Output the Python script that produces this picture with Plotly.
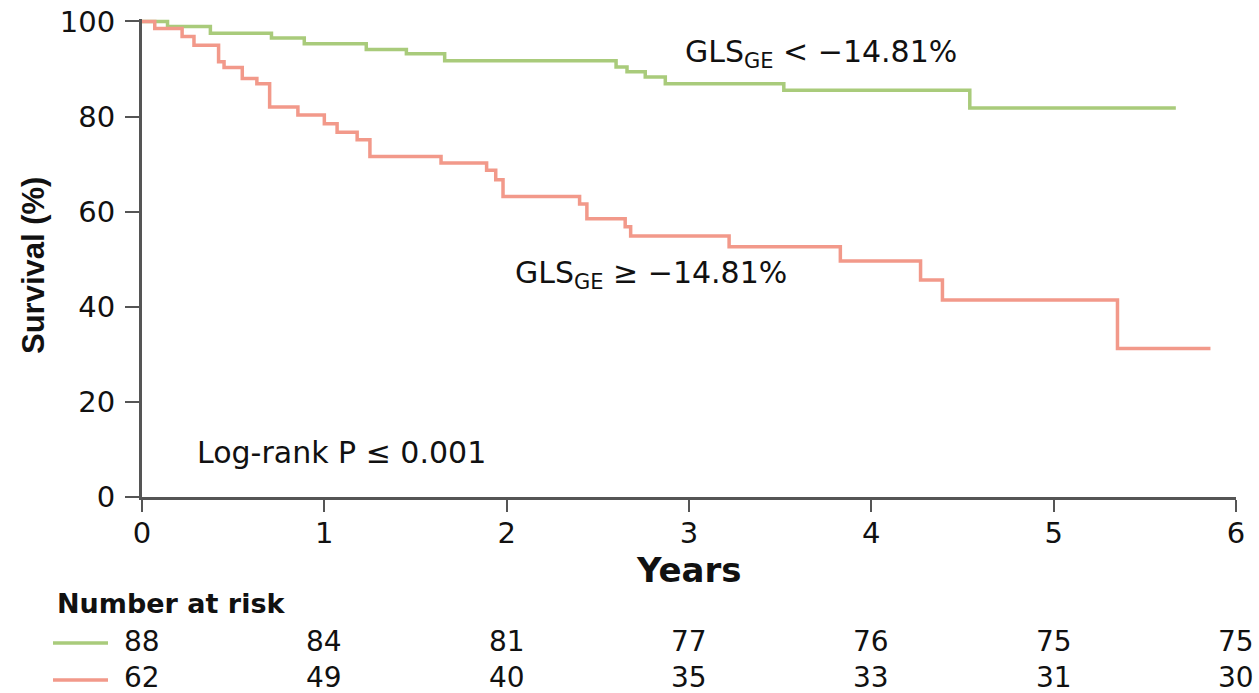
import plotly.graph_objects as go

# ---- data ----
green_t = [0, 0.14, 0.375, 0.71, 0.89, 1.23, 1.45, 1.66, 2.60, 2.66, 2.76, 2.87, 3.52, 4.54, 5.67]
green_s = [100, 98.9, 97.5, 96.5, 95.3, 94.1, 93.2, 91.7, 90.4, 89.4, 88.3, 86.9, 85.5, 81.8, 81.8]

red_t = [0, 0.07, 0.22, 0.285, 0.42, 0.45, 0.55, 0.63, 0.70, 0.855, 1.0, 1.07, 1.18, 1.25,
         1.64, 1.89, 1.94, 1.98, 2.40, 2.44, 2.65, 2.68, 3.22, 3.83, 4.27, 4.39, 5.35, 5.86]
red_s = [100, 98.5, 96.8, 95.0, 91.5, 90.3, 88.0, 86.9, 82.0, 80.3, 78.5, 76.7, 75.1, 71.6,
         70.2, 68.7, 66.7, 63.2, 61.6, 58.5, 56.8, 54.9, 52.6, 49.6, 45.6, 41.4, 31.2, 31.2]

risk_years = [0, 1, 2, 3, 4, 5, 6]
risk_green = [88, 84, 81, 77, 76, 75, 75]
risk_red = [62, 49, 40, 35, 33, 31, 30]

x_ticks = [0, 1, 2, 3, 4, 5, 6]
y_ticks = [0, 20, 40, 60, 80, 100]

GREEN = "#a9cb7b"
RED = "#f2998a"
WIDE = "DejaVu Sans, Verdana, sans-serif"
NARROW = "Liberation Sans, Arial, sans-serif"
TXT = "#111111"

fig = go.Figure()
fig.add_trace(go.Scatter(x=green_t, y=green_s, mode="lines", line=dict(color=GREEN, width=3.5, shape="hv"),
                         showlegend=False, hoverinfo="skip"))
fig.add_trace(go.Scatter(x=red_t, y=red_s, mode="lines", line=dict(color=RED, width=3.5, shape="hv"),
                         showlegend=False, hoverinfo="skip"))

H0 = 497      # pixel y of plot bottom
PH = 478      # plot height in px
X0 = 142      # pixel x of plot left
PW = 1094     # plot width in px


def py(pix):
    return (H0 - pix) / PH


def px(pix):
    return (pix - X0) / PW


def dx(pix):   # pixel x -> data x
    return (pix - X0) / (PW / 6)


def dy(pix):   # pixel y -> data y
    return (H0 - pix) / (PH / 100.5)


ann = []
ann.append(dict(x=dx(683), y=dy(53), xref="x", yref="y",
                text="GLS<sub>GE</sub> &lt; \u221214.81%", showarrow=False, xanchor="left",
                yanchor="middle", font=dict(family=WIDE, size=30, color=TXT)))
ann.append(dict(x=dx(513), y=dy(274), xref="x", yref="y",
                text="GLS<sub>GE</sub> \u2265 \u221214.81%", showarrow=False, xanchor="left",
                yanchor="middle", font=dict(family=WIDE, size=30, color=TXT)))
ann.append(dict(x=dx(195), y=dy(452), xref="x", yref="y",
                text="Log-rank P \u2264 0.001", showarrow=False, xanchor="left",
                yanchor="middle", font=dict(family=WIDE, size=30, color=TXT)))
ann.append(dict(x=3, y=py(570), xref="x", yref="paper", text="<b>Years</b>", showarrow=False,
                xanchor="center", yanchor="middle", font=dict(family=WIDE, size=34, color=TXT)))
ann.append(dict(x=px(33), y=py(265), xref="paper", yref="paper", text="<b>Survival (%)</b>",
                showarrow=False, textangle=-90, xanchor="center", yanchor="middle",
                font=dict(family=NARROW, size=31, color=TXT)))
ann.append(dict(x=px(55), y=py(603), xref="paper", yref="paper", text="<b>Number at risk</b>",
                showarrow=False, xanchor="left", yanchor="middle",
                font=dict(family=WIDE, size=27, color=TXT)))
for yr, g, r in zip(risk_years, risk_green, risk_red):
    ann.append(dict(x=yr, y=py(642), xref="x", yref="paper", text=str(g), showarrow=False,
                    xanchor="center", yanchor="middle", font=dict(family=WIDE, size=28, color=TXT)))
    ann.append(dict(x=yr, y=py(677), xref="x", yref="paper", text=str(r), showarrow=False,
                    xanchor="center", yanchor="middle", font=dict(family=WIDE, size=28, color=TXT)))

shapes = [
    dict(type="line", xref="paper", yref="paper", x0=px(53), x1=px(108), y0=py(643), y1=py(643),
         line=dict(color=GREEN, width=3.5)),
    dict(type="line", xref="paper", yref="paper", x0=px(53), x1=px(108), y0=py(680), y1=py(680),
         line=dict(color=RED, width=3.5)),
]

axis_common = dict(ticks="outside", tickwidth=2, tickcolor="#555", showline=True, linecolor="#555",
                   linewidth=3, showgrid=False, zeroline=False, fixedrange=True, automargin=False,
                   tickfont=dict(family=WIDE, size=29, color=TXT))

fig.update_layout(
    width=1259, height=693,
    margin=dict(l=X0, r=1259 - X0 - PW, t=H0 - PH, b=693 - H0),
    plot_bgcolor="white", paper_bgcolor="white",
    font=dict(family=WIDE, color=TXT),
    annotations=ann, shapes=shapes,
    xaxis=dict(range=[0, 6], tickvals=x_ticks, ticklen=12, ticklabelstandoff=-4, **axis_common),
    yaxis=dict(range=[0, 100.5], tickvals=y_ticks, ticklen=14, ticklabelstandoff=4, **axis_common),
)

fig.write_html("out.html")
